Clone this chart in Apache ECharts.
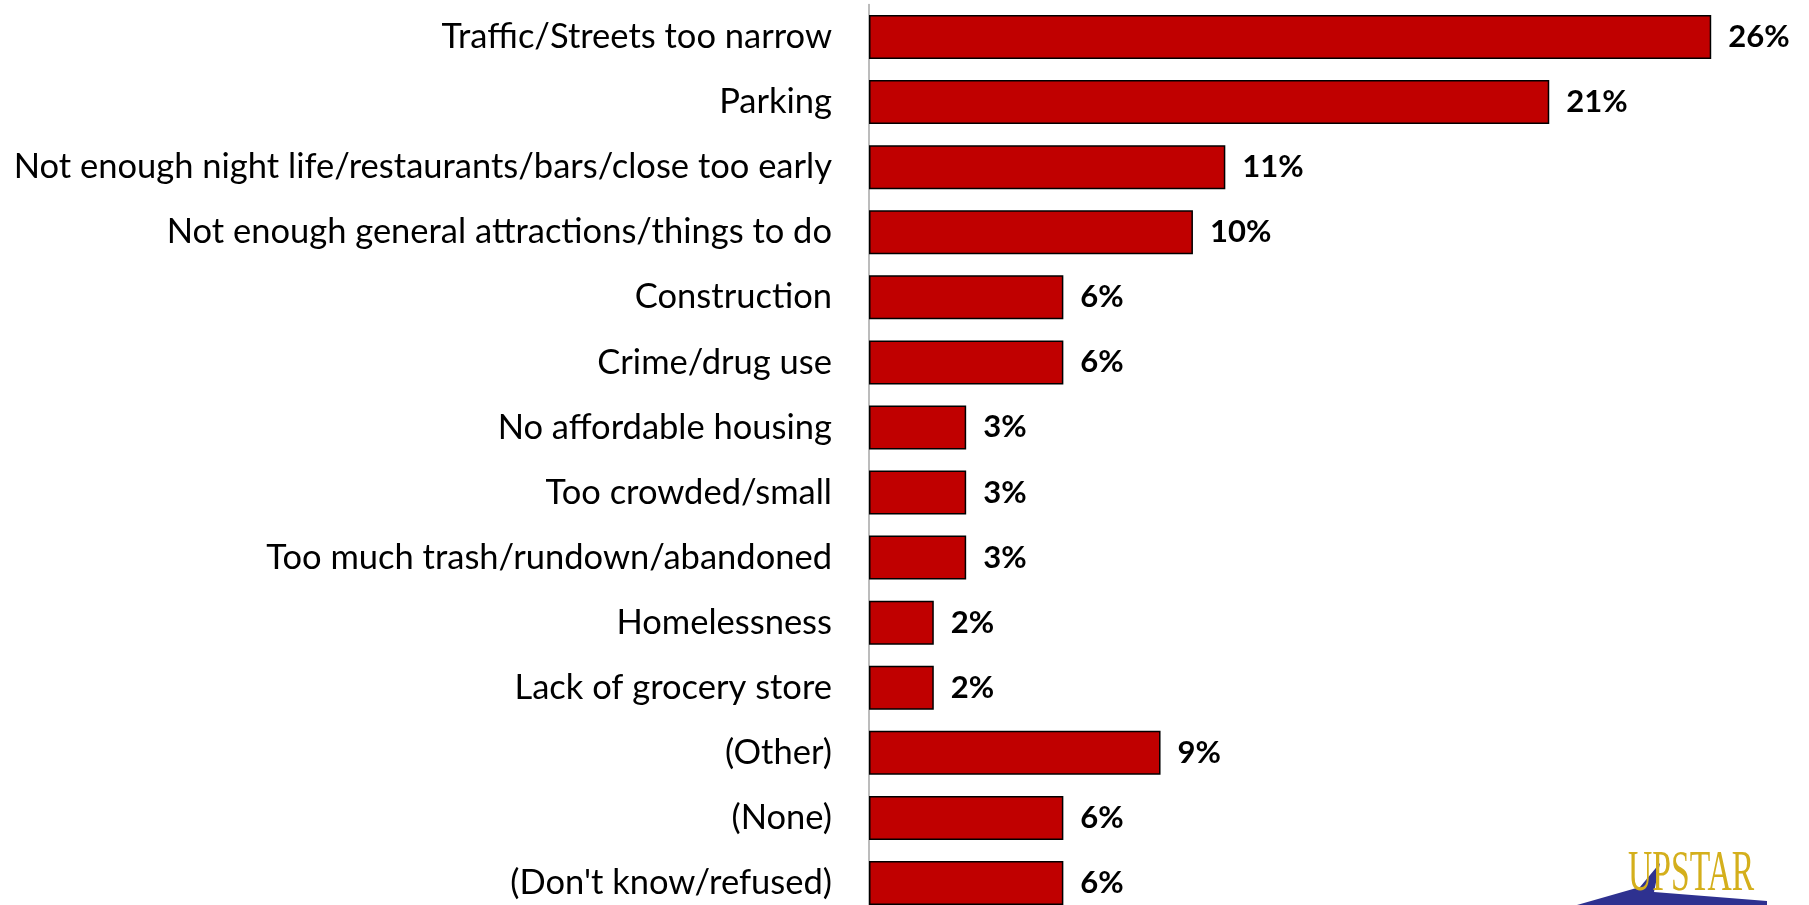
<!DOCTYPE html>
<html><head><meta charset="utf-8">
<script src="https://cdn.jsdelivr.net/npm/echarts@6/dist/echarts.min.js"></script>
<style>html,body{margin:0;padding:0;background:#fff;overflow:hidden;height:905px}#c{width:1809px;height:930px}</style>
</head><body><div id="c"></div>
<script>
const categories = ["Traffic/Streets too narrow","Parking","Not enough night life/restaurants/bars/close too early","Not enough general attractions/things to do","Construction","Crime/drug use","No affordable housing","Too crowded/small","Too much trash/rundown/abandoned","Homelessness","Lack of grocery store","(Other)","(None)","(Don't know/refused)"];
const values = [26,21,11,10,6,6,3,3,3,2,2,9,6,6];

const chart = echarts.init(document.getElementById('c'), null, {renderer:'canvas'});
chart.setOption({
  animation:false,
  grid:{left:869, right:33, top:4.5, bottom:14.5, containLabel:false},
  xAxis:{type:'value', min:0, max:28, show:false},
  yAxis:{type:'category', inverse:true, data:categories,
    axisLine:{show:true, lineStyle:{color:'#a6a6a6', width:1.5}},
    axisTick:{show:false},
    axisLabel:{margin:37, fontSize:34.5, color:'#000', fontFamily:'Lato'}},
  series:[{type:'bar', data:values, barWidth:44,
    itemStyle:{color:'#C00000', borderColor:'#000', borderWidth:1.5},
    label:{show:true, position:'right', distance:17, formatter:'{c}%', fontSize:31, fontWeight:'bold', color:'#000', fontFamily:'Lato'}}],
  graphic:[
    {type:'polygon', shape:{points:[[1577,905],[1640,887],[1660,863],[1654,892],[1767,901],[1767,905]]}, style:{fill:'#2e3190'}},
    {type:'text', x:1628, y:903, scaleX:0.6, style:{text:'UPSTAR', fontSize:56, fontFamily:'Liberation Serif', fill:'#d4af1c', textVerticalAlign:'bottom', verticalAlign:'bottom'}}
  ]
});
</script></body></html>
